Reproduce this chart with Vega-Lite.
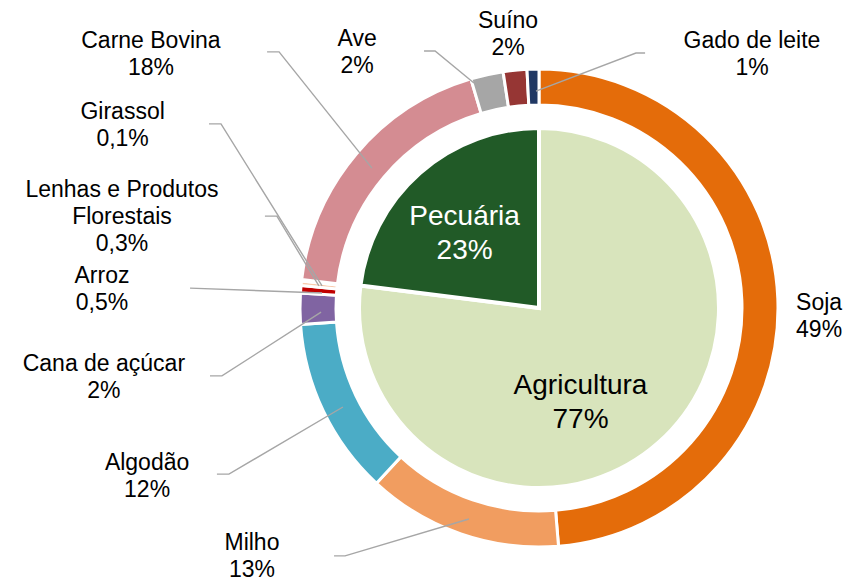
{
  "$schema": "https://vega.github.io/schema/vega-lite/v6.json",
  "width": 600,
  "height": 540,
  "autosize": {"type": "none"},
  "padding": {"left": 239, "top": 38, "right": 7, "bottom": 3},
  "background": "white",
  "config": {"view": {"stroke": null}, "font": "Liberation Sans"},
  "datasets": {
    "ring": [
      {"cat": "Soja", "share": 48.7, "idx": 1},
      {"cat": "Milho", "share": 13.2, "idx": 2},
      {"cat": "Algodão", "share": 12.0, "idx": 3},
      {"cat": "Cana de açúcar", "share": 2.1, "idx": 4},
      {"cat": "Arroz", "share": 0.5, "idx": 5},
      {"cat": "Lenhas e Produtos Florestais", "share": 0.3, "idx": 6},
      {"cat": "Girassol", "share": 0.1, "idx": 7},
      {"cat": "Carne Bovina", "share": 18.5, "idx": 8},
      {"cat": "Ave", "share": 2.2, "idx": 9},
      {"cat": "Suíno", "share": 1.6, "idx": 10},
      {"cat": "Gado de leite", "share": 0.8, "idx": 11}
    ],
    "pie": [
      {"cat": "Agricultura", "share": 77, "idx": 1},
      {"cat": "Pecuária", "share": 23, "idx": 2}
    ],
    "labels": [
      {"cat": "Soja", "text": "Soja\n49%", "lx": 116.7, "ly": -0.8},
      {"cat": "Milho", "text": "Milho\n13%", "lx": -119.6, "ly": -100.9},
      {"cat": "Algodão", "text": "Algodão\n12%", "lx": -163.3, "ly": -67.5},
      {"cat": "Cana de açúcar", "text": "Cana de açúcar\n2%", "lx": -181.3, "ly": -26.3},
      {"cat": "Arroz", "text": "Arroz\n0,5%", "lx": -182.1, "ly": 10.4},
      {"cat": "Lenhas e Produtos Florestais", "text": "Lenhas e Produtos\nFlorestais\n0,3%", "lx": -173.75, "ly": 46.25},
      {"cat": "Girassol", "text": "Girassol\n0,1%", "lx": -173.5, "ly": 78.75},
      {"cat": "Carne Bovina", "text": "Carne Bovina\n18%", "lx": -161.7, "ly": 108.3},
      {"cat": "Ave", "text": "Ave\n2%", "lx": -75.8, "ly": 109.2},
      {"cat": "Suíno", "text": "Suíno\n2%", "lx": -12.9, "ly": 116.7},
      {"cat": "Gado de leite", "text": "Gado de leite\n1%", "lx": 88.75, "ly": 108.3}
    ],
    "innerLabels": [
      {"cat": "Agricultura", "text": "Agricultura\n77%", "lx": 17.3, "ly": -35.8},
      {"cat": "Pecuária", "text": "Pecuária\n23%", "lx": -31.0, "ly": 34.6}
    ],
    "leaders": [
      {"cat": "Carne Bovina", "pt": 1, "lx": -113.3, "ly": 106.7},
      {"cat": "Carne Bovina", "pt": 2, "lx": -108.3, "ly": 106.7},
      {"cat": "Carne Bovina", "pt": 3, "lx": -69.6, "ly": 58.3},
      {"cat": "Ave", "pt": 1, "lx": -47.9, "ly": 107.1},
      {"cat": "Ave", "pt": 2, "lx": -43.3, "ly": 107.1},
      {"cat": "Ave", "pt": 3, "lx": -27.1, "ly": 93.75},
      {"cat": "Gado de leite", "pt": 1, "lx": 44.2, "ly": 106.25},
      {"cat": "Gado de leite", "pt": 2, "lx": 40.4, "ly": 106.25},
      {"cat": "Gado de leite", "pt": 3, "lx": -1.25, "ly": 90.4},
      {"cat": "Girassol", "pt": 1, "lx": -137.5, "ly": 76.7},
      {"cat": "Girassol", "pt": 2, "lx": -132.5, "ly": 76.7},
      {"cat": "Girassol", "pt": 3, "lx": -90.4, "ly": 9.2},
      {"cat": "Lenhas e Produtos Florestais", "pt": 1, "lx": -114.2, "ly": 38.3},
      {"cat": "Lenhas e Produtos Florestais", "pt": 2, "lx": -109.2, "ly": 38.3},
      {"cat": "Lenhas e Produtos Florestais", "pt": 3, "lx": -91.7, "ly": 9.2},
      {"cat": "Arroz", "pt": 1, "lx": -145.4, "ly": 8.3},
      {"cat": "Arroz", "pt": 2, "lx": -90.4, "ly": 6.25},
      {"cat": "Cana de açúcar", "pt": 1, "lx": -137.1, "ly": -28.3},
      {"cat": "Cana de açúcar", "pt": 2, "lx": -132.1, "ly": -28.3},
      {"cat": "Cana de açúcar", "pt": 3, "lx": -90.8, "ly": -1.7},
      {"cat": "Algodão", "pt": 1, "lx": -134.2, "ly": -69.2},
      {"cat": "Algodão", "pt": 2, "lx": -129.2, "ly": -69.2},
      {"cat": "Algodão", "pt": 3, "lx": -81.7, "ly": -41.25},
      {"cat": "Milho", "pt": 1, "lx": -85.4, "ly": -103.3},
      {"cat": "Milho", "pt": 2, "lx": -80.8, "ly": -103.3},
      {"cat": "Milho", "pt": 3, "lx": -29.2, "ly": -87.9}
    ]
  },
  "layer": [
    {
      "data": {"name": "pie"},
      "mark": {"type": "arc", "outerRadius": 180, "innerRadius": 0, "stroke": "white", "strokeWidth": 4},
      "encoding": {
        "theta": {"field": "share", "type": "quantitative", "stack": true},
        "order": {"field": "idx", "type": "quantitative"},
        "color": {
          "field": "cat",
          "type": "nominal",
          "legend": null,
          "scale": {
            "domain": ["Soja", "Milho", "Algodão", "Cana de açúcar", "Arroz", "Lenhas e Produtos Florestais", "Girassol", "Carne Bovina", "Ave", "Suíno", "Gado de leite", "Agricultura", "Pecuária"],
            "range": ["#E46C0A", "#F19D60", "#4BACC6", "#8064A2", "#C00000", "#F8CBAD", "#FFD966", "#D48C92", "#A6A6A6", "#963634", "#203864", "#D8E4BC", "#215A27"]
          }
        }
      }
    },
    {
      "data": {"name": "ring"},
      "mark": {"type": "arc", "outerRadius": 239, "innerRadius": 203, "stroke": "white", "strokeWidth": 3},
      "encoding": {
        "theta": {"field": "share", "type": "quantitative", "stack": true},
        "order": {"field": "idx", "type": "quantitative"},
        "color": {"field": "cat", "type": "nominal", "legend": null}
      }
    },
    {
      "data": {"name": "leaders"},
      "mark": {"type": "line", "color": "#A6A6A6", "strokeWidth": 1.4},
      "encoding": {
        "x": {"field": "lx", "type": "quantitative", "scale": {"domain": [-125, 125], "nice": false, "zero": false}, "axis": null},
        "y": {"field": "ly", "type": "quantitative", "scale": {"domain": [-112.5, 112.5], "nice": false, "zero": false}, "axis": null},
        "detail": {"field": "cat", "type": "nominal"},
        "order": {"field": "pt", "type": "quantitative"}
      }
    },
    {
      "data": {"name": "labels"},
      "mark": {"type": "text", "fontSize": 23, "lineHeight": 27, "lineBreak": "\n", "align": "center", "baseline": "alphabetic", "color": "#000000", "font": "Liberation Sans"},
      "encoding": {
        "x": {"field": "lx", "type": "quantitative", "scale": {"domain": [-125, 125], "nice": false, "zero": false}, "axis": null},
        "y": {"field": "ly", "type": "quantitative", "scale": {"domain": [-112.5, 112.5], "nice": false, "zero": false}, "axis": null},
        "text": {"field": "text", "type": "nominal"}
      }
    },
    {
      "data": {"name": "innerLabels"},
      "mark": {"type": "text", "fontSize": 28, "lineHeight": 34, "lineBreak": "\n", "align": "center", "baseline": "alphabetic", "font": "Liberation Sans"},
      "encoding": {
        "x": {"field": "lx", "type": "quantitative", "scale": {"domain": [-125, 125], "nice": false, "zero": false}, "axis": null},
        "y": {"field": "ly", "type": "quantitative", "scale": {"domain": [-112.5, 112.5], "nice": false, "zero": false}, "axis": null},
        "text": {"field": "text", "type": "nominal"},
        "color": {"condition": {"test": "datum.cat === 'Pecuária'", "value": "#FFFFFF"}, "value": "#000000"}
      }
    }
  ]
}
